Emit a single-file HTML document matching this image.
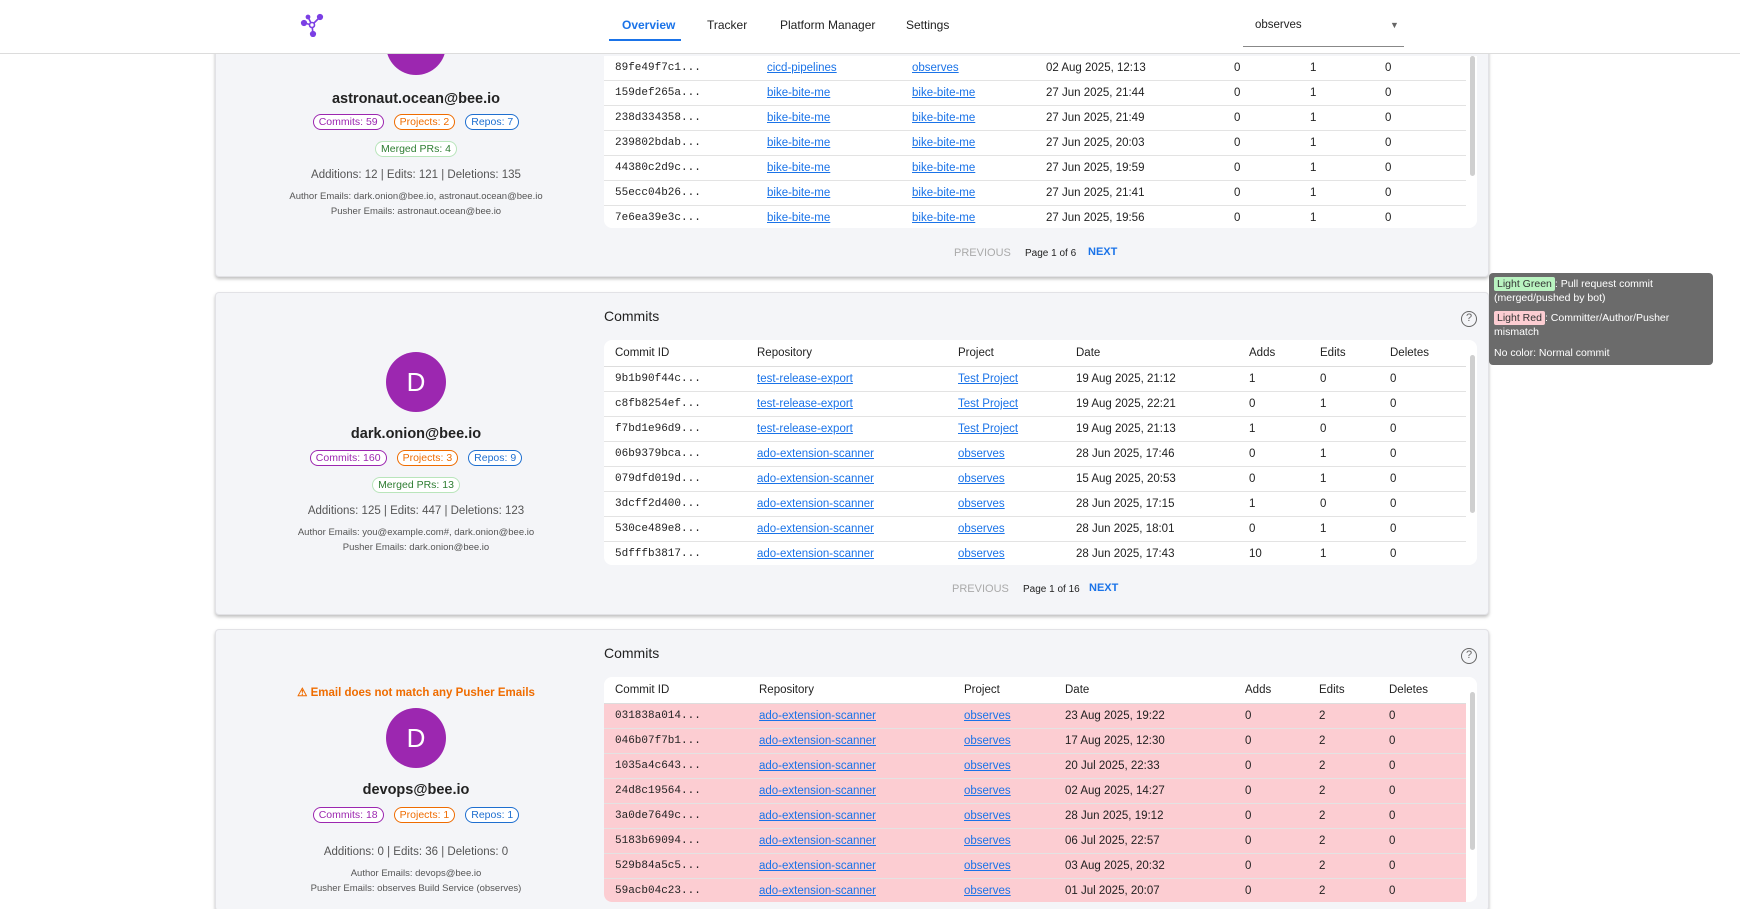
<!DOCTYPE html>
<html style="width:1740px;height:909px;overflow:hidden"><head><meta charset="utf-8"><style>
*{box-sizing:border-box;margin:0;padding:0}
body{width:1740px;height:909px;overflow:hidden;background:#fff;font-family:"Liberation Sans",sans-serif;color:#222;position:relative}
.abs{position:absolute}
.hdr{position:absolute;left:0;top:0;width:1740px;height:54px;background:#fff;border-bottom:1px solid #dcdcdc;z-index:5}
.nav{position:absolute;top:18px;font-size:12px;color:#222}
.card{position:absolute;left:215px;width:1274px;background:#f4f5f8;border:1px solid #e2e2e6;border-radius:4px;box-shadow:0 2px 3px rgba(0,0,0,.25)}
.c{position:absolute;left:0;width:400px;text-align:center}
.name{font-size:14.5px;font-weight:bold;color:#222}
.badges{font-size:10.5px}
.b{display:inline-block;border:1px solid;border-radius:9px;padding:1px 5px;margin:0 5px;background:#fff}
.small{font-size:9.5px;color:#555}
.stat{font-size:11.5px;color:#555}
.av{position:absolute;width:60px;height:60px;border-radius:50%;background:#9c27b0;color:#fff;font-size:26px;text-align:center;line-height:60px}
.tbl{position:absolute;left:388px;width:873px;background:#fff;border-radius:8px;overflow:hidden;font-size:11.5px}
.row{position:absolute;left:0;width:862px;height:25px;border-bottom:1px solid #e3e3e3}
.row span{position:absolute;top:0;line-height:25px;white-space:nowrap}
.m{font-family:"Liberation Mono",monospace;font-size:11px}
a{color:#1a73e8;text-decoration:underline}
.red{background:#fccdd2}
.sb{position:absolute;left:866px;width:5px;background:#cfcfcf;border-radius:3px}
.pg{position:absolute;font-size:11px}
.title{position:absolute;left:388px;font-size:14px;color:#222}
.help{position:absolute;left:1245px;width:16px;height:16px;border:1.5px solid #666;border-radius:50%;font-size:11px;text-align:center;line-height:13px;color:#666}
</style></head><body>
<div class="hdr">
<svg class="abs" style="left:300px;top:13px" width="24" height="24" viewBox="0 0 24 24"><g stroke="#7b3fe4" stroke-width="1.6" fill="#7b3fe4"><line x1="12" y1="12" x2="20" y2="4"/><line x1="12" y1="12" x2="4" y2="10"/><line x1="12" y1="12" x2="13" y2="21"/><line x1="12" y1="12" x2="8" y2="4"/><circle cx="20" cy="4" r="2.3"/><circle cx="4" cy="10" r="2.3"/><circle cx="13" cy="21" r="2.3"/><circle cx="8" cy="4" r="1.6"/><circle cx="12" cy="12" r="2.5" fill="#fff"/></g></svg>
<div class="nav" style="left:622px;color:#1a73e8;font-weight:bold">Overview</div>
<div class="abs" style="left:609px;top:39px;width:72px;height:2px;background:#1a73e8"></div>
<div class="nav" style="left:707px">Tracker</div>
<div class="nav" style="left:780px">Platform Manager</div>
<div class="nav" style="left:906px">Settings</div>
<div class="abs" style="left:1255px;top:19px;font-size:11.5px">observes</div>
<div class="abs" style="left:1390px;top:20px;font-size:9px;color:#666">▼</div>
<div class="abs" style="left:1243px;top:46px;width:161px;height:1px;background:#888"></div>
</div>

<!-- Card 1 -->
<div class="card" style="top:20px;height:257px">
<div class="av" style="left:170px;top:-6px"></div>
<div class="c name" style="top:70px">astronaut.ocean@bee.io</div>
<div class="c badges" style="top:93px"><span class="b" style="color:#9c27b0">Commits: 59</span><span class="b" style="color:#ef6c00">Projects: 2</span><span class="b" style="color:#1e6fd0">Repos: 7</span></div>
<div class="c badges" style="top:120px"><span class="b" style="color:#2e7d32;border-color:#b9e5bb">Merged PRs: 4</span></div>
<div class="c stat" style="top:148px">Additions: 12 | Edits: 121 | Deletions: 135</div>
<div class="c small" style="top:170px">Author Emails: dark.onion@bee.io, astronaut.ocean@bee.io</div>
<div class="c small" style="top:185px">Pusher Emails: astronaut.ocean@bee.io</div>
<div class="tbl" style="top:35px;height:172px;border-radius:0 0 8px 8px">
<div class="row" style="top:0"><span class="m" style="left:11px">89fe49f7c1...</span><span style="left:163px"><a>cicd-pipelines</a></span><span style="left:308px"><a>observes</a></span><span style="left:442px">02 Aug 2025, 12:13</span><span style="left:630px">0</span><span style="left:706px">1</span><span style="left:781px">0</span></div>
<div class="row" style="top:25px"><span class="m" style="left:11px">159def265a...</span><span style="left:163px"><a>bike-bite-me</a></span><span style="left:308px"><a>bike-bite-me</a></span><span style="left:442px">27 Jun 2025, 21:44</span><span style="left:630px">0</span><span style="left:706px">1</span><span style="left:781px">0</span></div>
<div class="row" style="top:50px"><span class="m" style="left:11px">238d334358...</span><span style="left:163px"><a>bike-bite-me</a></span><span style="left:308px"><a>bike-bite-me</a></span><span style="left:442px">27 Jun 2025, 21:49</span><span style="left:630px">0</span><span style="left:706px">1</span><span style="left:781px">0</span></div>
<div class="row" style="top:75px"><span class="m" style="left:11px">239802bdab...</span><span style="left:163px"><a>bike-bite-me</a></span><span style="left:308px"><a>bike-bite-me</a></span><span style="left:442px">27 Jun 2025, 20:03</span><span style="left:630px">0</span><span style="left:706px">1</span><span style="left:781px">0</span></div>
<div class="row" style="top:100px"><span class="m" style="left:11px">44380c2d9c...</span><span style="left:163px"><a>bike-bite-me</a></span><span style="left:308px"><a>bike-bite-me</a></span><span style="left:442px">27 Jun 2025, 19:59</span><span style="left:630px">0</span><span style="left:706px">1</span><span style="left:781px">0</span></div>
<div class="row" style="top:125px"><span class="m" style="left:11px">55ecc04b26...</span><span style="left:163px"><a>bike-bite-me</a></span><span style="left:308px"><a>bike-bite-me</a></span><span style="left:442px">27 Jun 2025, 21:41</span><span style="left:630px">0</span><span style="left:706px">1</span><span style="left:781px">0</span></div>
<div class="row" style="top:150px;border:none"><span class="m" style="left:11px">7e6ea39e3c...</span><span style="left:163px"><a>bike-bite-me</a></span><span style="left:308px"><a>bike-bite-me</a></span><span style="left:442px">27 Jun 2025, 19:56</span><span style="left:630px">0</span><span style="left:706px">1</span><span style="left:781px">0</span></div>
<div class="sb" style="top:0;height:120px"></div>
</div>
<div class="pg" style="left:738px;top:226px;color:#aaa">PREVIOUS</div>
<div class="pg" style="left:809px;top:227px;font-size:10px">Page 1 of 6</div>
<div class="pg" style="left:872px;top:225px;color:#1a73e8;font-weight:bold">NEXT</div>
</div>

<!-- Card 2 -->
<div class="card" style="top:292px;height:323px">
<div class="title" style="top:15px">Commits</div>
<div class="help" style="top:18px">?</div>
<div class="av" style="left:170px;top:59px">D</div>
<div class="c name" style="top:133px">dark.onion@bee.io</div>
<div class="c badges" style="top:157px"><span class="b" style="color:#9c27b0">Commits: 160</span><span class="b" style="color:#ef6c00">Projects: 3</span><span class="b" style="color:#1e6fd0">Repos: 9</span></div>
<div class="c badges" style="top:184px"><span class="b" style="color:#2e7d32;border-color:#b9e5bb">Merged PRs: 13</span></div>
<div class="c stat" style="top:212px">Additions: 125 | Edits: 447 | Deletions: 123</div>
<div class="c small" style="top:234px">Author Emails: you@example.com#, dark.onion@bee.io</div>
<div class="c small" style="top:249px">Pusher Emails: dark.onion@bee.io</div>
<div class="tbl" style="top:47px;height:225px">
<div class="row" style="top:0;height:27px;border-color:#ddd"><span style="left:11px;line-height:27px">Commit ID</span><span style="left:153px;line-height:27px">Repository</span><span style="left:354px;line-height:27px">Project</span><span style="left:472px;line-height:27px">Date</span><span style="left:645px;line-height:27px">Adds</span><span style="left:716px;line-height:27px">Edits</span><span style="left:786px;line-height:27px">Deletes</span></div>
<div class="row" style="top:27px"><span class="m" style="left:11px">9b1b90f44c...</span><span style="left:153px"><a>test-release-export</a></span><span style="left:354px"><a>Test Project</a></span><span style="left:472px">19 Aug 2025, 21:12</span><span style="left:645px">1</span><span style="left:716px">0</span><span style="left:786px">0</span></div>
<div class="row" style="top:52px"><span class="m" style="left:11px">c8fb8254ef...</span><span style="left:153px"><a>test-release-export</a></span><span style="left:354px"><a>Test Project</a></span><span style="left:472px">19 Aug 2025, 22:21</span><span style="left:645px">0</span><span style="left:716px">1</span><span style="left:786px">0</span></div>
<div class="row" style="top:77px"><span class="m" style="left:11px">f7bd1e96d9...</span><span style="left:153px"><a>test-release-export</a></span><span style="left:354px"><a>Test Project</a></span><span style="left:472px">19 Aug 2025, 21:13</span><span style="left:645px">1</span><span style="left:716px">0</span><span style="left:786px">0</span></div>
<div class="row" style="top:102px"><span class="m" style="left:11px">06b9379bca...</span><span style="left:153px"><a>ado-extension-scanner</a></span><span style="left:354px"><a>observes</a></span><span style="left:472px">28 Jun 2025, 17:46</span><span style="left:645px">0</span><span style="left:716px">1</span><span style="left:786px">0</span></div>
<div class="row" style="top:127px"><span class="m" style="left:11px">079dfd019d...</span><span style="left:153px"><a>ado-extension-scanner</a></span><span style="left:354px"><a>observes</a></span><span style="left:472px">15 Aug 2025, 20:53</span><span style="left:645px">0</span><span style="left:716px">1</span><span style="left:786px">0</span></div>
<div class="row" style="top:152px"><span class="m" style="left:11px">3dcff2d400...</span><span style="left:153px"><a>ado-extension-scanner</a></span><span style="left:354px"><a>observes</a></span><span style="left:472px">28 Jun 2025, 17:15</span><span style="left:645px">1</span><span style="left:716px">0</span><span style="left:786px">0</span></div>
<div class="row" style="top:177px"><span class="m" style="left:11px">530ce489e8...</span><span style="left:153px"><a>ado-extension-scanner</a></span><span style="left:354px"><a>observes</a></span><span style="left:472px">28 Jun 2025, 18:01</span><span style="left:645px">0</span><span style="left:716px">1</span><span style="left:786px">0</span></div>
<div class="row" style="top:202px;border:none"><span class="m" style="left:11px">5dfffb3817...</span><span style="left:153px"><a>ado-extension-scanner</a></span><span style="left:354px"><a>observes</a></span><span style="left:472px">28 Jun 2025, 17:43</span><span style="left:645px">10</span><span style="left:716px">1</span><span style="left:786px">0</span></div>
<div class="sb" style="top:15px;height:158px"></div>
</div>
<div class="pg" style="left:736px;top:290px;color:#aaa">PREVIOUS</div>
<div class="pg" style="left:807px;top:291px;font-size:10px">Page 1 of 16</div>
<div class="pg" style="left:873px;top:289px;color:#1a73e8;font-weight:bold">NEXT</div>
</div>

<!-- Card 3 -->
<div class="card" style="top:629px;height:282px">
<div class="title" style="top:15px">Commits</div>
<div class="help" style="top:18px">?</div>
<div class="c" style="top:55px;font-size:11.5px;color:#ef6c00;font-weight:bold">⚠ Email does not match any Pusher Emails</div>
<div class="av" style="left:170px;top:78px">D</div>
<div class="c name" style="top:152px">devops@bee.io</div>
<div class="c badges" style="top:177px"><span class="b" style="color:#9c27b0">Commits: 18</span><span class="b" style="color:#ef6c00">Projects: 1</span><span class="b" style="color:#1e6fd0">Repos: 1</span></div>
<div class="c stat" style="top:216px">Additions: 0 | Edits: 36 | Deletions: 0</div>
<div class="c small" style="top:238px">Author Emails: devops@bee.io</div>
<div class="c small" style="top:253px">Pusher Emails: observes Build Service (observes)</div>
<div class="tbl" style="top:47px;height:225px">
<div class="row" style="top:0;height:27px;border-color:#ddd"><span style="left:11px;line-height:27px">Commit ID</span><span style="left:155px;line-height:27px">Repository</span><span style="left:360px;line-height:27px">Project</span><span style="left:461px;line-height:27px">Date</span><span style="left:641px;line-height:27px">Adds</span><span style="left:715px;line-height:27px">Edits</span><span style="left:785px;line-height:27px">Deletes</span></div>
<div class="row red" style="top:27px"><span class="m" style="left:11px">031838a014...</span><span style="left:155px"><a>ado-extension-scanner</a></span><span style="left:360px"><a>observes</a></span><span style="left:461px">23 Aug 2025, 19:22</span><span style="left:641px">0</span><span style="left:715px">2</span><span style="left:785px">0</span></div>
<div class="row red" style="top:52px"><span class="m" style="left:11px">046b07f7b1...</span><span style="left:155px"><a>ado-extension-scanner</a></span><span style="left:360px"><a>observes</a></span><span style="left:461px">17 Aug 2025, 12:30</span><span style="left:641px">0</span><span style="left:715px">2</span><span style="left:785px">0</span></div>
<div class="row red" style="top:77px"><span class="m" style="left:11px">1035a4c643...</span><span style="left:155px"><a>ado-extension-scanner</a></span><span style="left:360px"><a>observes</a></span><span style="left:461px">20 Jul 2025, 22:33</span><span style="left:641px">0</span><span style="left:715px">2</span><span style="left:785px">0</span></div>
<div class="row red" style="top:102px"><span class="m" style="left:11px">24d8c19564...</span><span style="left:155px"><a>ado-extension-scanner</a></span><span style="left:360px"><a>observes</a></span><span style="left:461px">02 Aug 2025, 14:27</span><span style="left:641px">0</span><span style="left:715px">2</span><span style="left:785px">0</span></div>
<div class="row red" style="top:127px"><span class="m" style="left:11px">3a0de7649c...</span><span style="left:155px"><a>ado-extension-scanner</a></span><span style="left:360px"><a>observes</a></span><span style="left:461px">28 Jun 2025, 19:12</span><span style="left:641px">0</span><span style="left:715px">2</span><span style="left:785px">0</span></div>
<div class="row red" style="top:152px"><span class="m" style="left:11px">5183b69094...</span><span style="left:155px"><a>ado-extension-scanner</a></span><span style="left:360px"><a>observes</a></span><span style="left:461px">06 Jul 2025, 22:57</span><span style="left:641px">0</span><span style="left:715px">2</span><span style="left:785px">0</span></div>
<div class="row red" style="top:177px"><span class="m" style="left:11px">529b84a5c5...</span><span style="left:155px"><a>ado-extension-scanner</a></span><span style="left:360px"><a>observes</a></span><span style="left:461px">03 Aug 2025, 20:32</span><span style="left:641px">0</span><span style="left:715px">2</span><span style="left:785px">0</span></div>
<div class="row red" style="top:202px;border:none"><span class="m" style="left:11px">59acb04c23...</span><span style="left:155px"><a>ado-extension-scanner</a></span><span style="left:360px"><a>observes</a></span><span style="left:461px">01 Jul 2025, 20:07</span><span style="left:641px">0</span><span style="left:715px">2</span><span style="left:785px">0</span></div>
<div class="sb" style="top:15px;height:158px"></div>
</div>
</div>

<!-- Tooltip -->
<div class="abs" style="left:1489px;top:273px;width:224px;height:92px;background:#6b6b6b;border-radius:4px;color:#fff;font-size:10.5px;padding:4px 5px;line-height:14px;z-index:6">
<div><span style="background:#b9f3c0;color:#333;padding:1px 3px;border-radius:2px">Light Green</span>: Pull request commit (merged/pushed by bot)</div>
<div style="margin-top:6px"><span style="background:#fccdd2;color:#333;padding:1px 3px;border-radius:2px">Light Red</span>: Committer/Author/Pusher mismatch</div>
<div style="margin-top:7px">No color: Normal commit</div>
</div>
</body></html>
